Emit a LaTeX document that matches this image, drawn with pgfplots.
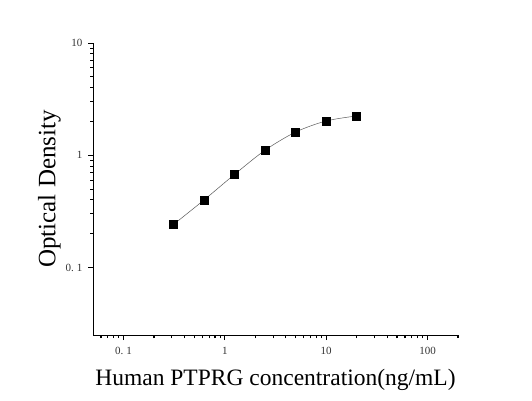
\documentclass[border=0pt]{standalone}
\usepackage{pgfplots}
\pgfplotsset{compat=1.18}
\usepackage{fontspec}
\setmainfont{Liberation Serif}
\begin{document}
\begin{tikzpicture}
\path[use as bounding box] (0pt,0pt) rectangle (532pt,400pt);
\begin{axis}[
  at={(93pt,65pt)}, anchor=south west,
  scale only axis, width=365pt, height=292pt,
  xmode=log, ymode=log,
  xmin=0.05, xmax=200, ymin=0.025, ymax=10,
  axis lines=left,
  axis line style={-, line width=1pt, black},
  tick align=outside,
  xtick pos=bottom, ytick pos=left,
  xtick={0.1,1,10,100}, xticklabels={0.\;1,1,10,100},
  ytick={0.1,1,10}, yticklabels={0.\;1,1,10},
  extra x ticks={0.06,0.07,0.08,0.09,0.2,0.3,0.4,0.5,0.6,0.7,0.8,0.9,2,3,4,5,6,7,8,9,20,30,40,50,60,70,80,90,200},
  extra x tick labels={},
  extra x tick style={major tick length=3pt, tick style={line width=1pt, black}},
  major tick length=5pt, minor tick length=3pt,
  xtick style={line width=1.2pt, black},
  ytick style={line width=1pt, black},
  tick label style={font=\fontsize{11}{12}\selectfont, text=black!80},
  xticklabel style={yshift=-4pt},
  yticklabel style={xshift=-2pt},
  xlabel={Human PTPRG concentration(ng/mL)},
  ylabel={Optical Density},
  xlabel style={font=\fontsize{23.5}{26}\selectfont, yshift=1pt},
  ylabel style={font=\fontsize{25}{28}\selectfont, yshift=-2pt},
  clip=false,
]
\addplot[smooth, gray!70!black, line width=0.5pt, mark=square*, mark size=4pt,
  mark options={fill=black, draw=black}] coordinates {
(0.3125,0.242) (0.625,0.40) (1.25,0.676) (2.5,1.11) (5,1.61) (10,2.02) (20,2.24)
};
\end{axis}
\end{tikzpicture}
\end{document}
